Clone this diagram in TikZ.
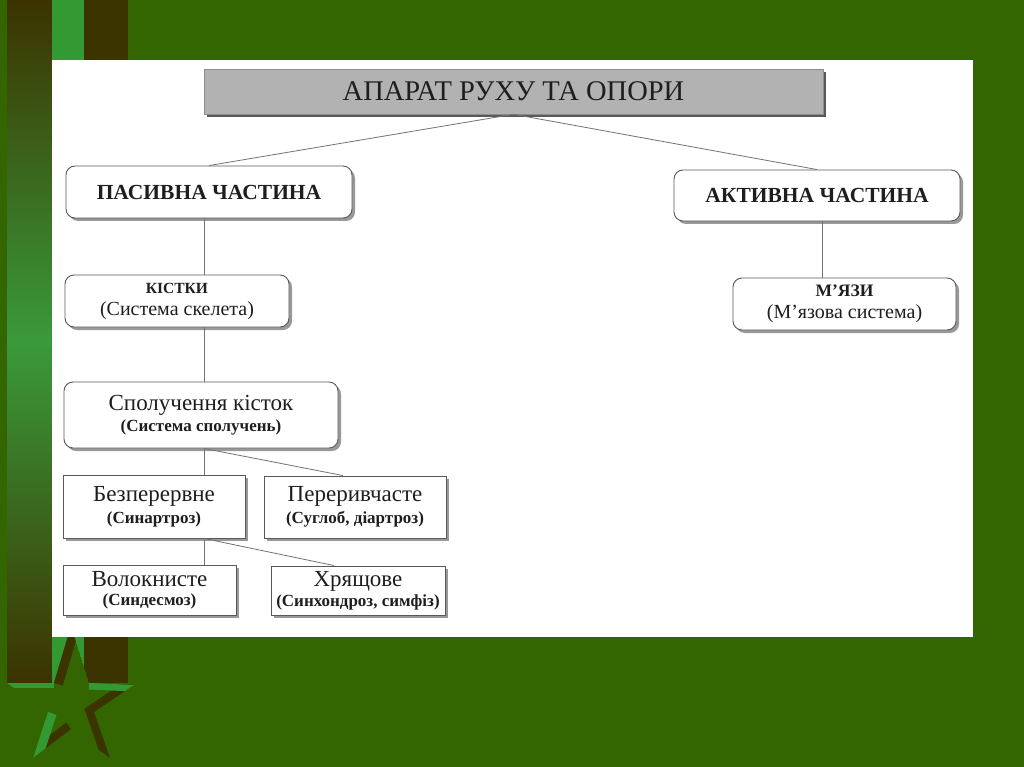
\documentclass[tikz,border=0pt]{standalone}
\usepackage{fontspec}
\setmainfont{Liberation Serif}
\usetikzlibrary{shadows}
\definecolor{bggreen}{HTML}{336600}
\definecolor{lgreen}{HTML}{339933}
\definecolor{dbrown}{HTML}{3B3300}
\definecolor{midgreen}{HTML}{3A9A3A}
\definecolor{ink}{HTML}{1E1E1E}
\newcommand\capsf{\fontsize{21.5}{24}\selectfont\bfseries}
\newcommand\smcf{\fontsize{15.5}{18}\selectfont\bfseries}
\newcommand\smcbf{\fontsize{17.5}{18}\selectfont\bfseries}
\newcommand\mainf{\fontsize{23}{26}\selectfont}
\newcommand\subf{\fontsize{17}{20}\selectfont\bfseries}
\newcommand\subrf{\fontsize{20}{22}\selectfont}
\tikzset{
  shad/.style={drop shadow={shadow xshift=3pt, shadow yshift=-3pt, fill=black!40, opacity=1}},
  rbox/.style={shad, draw=black!65, line width=0.9pt, fill=white, rounded corners=9pt,
    align=center, inner sep=0pt, text=ink},
  sbox/.style={shad, draw=black!65, line width=0.9pt, fill=white,
    align=center, inner sep=0pt, text=ink},
  tbox/.style={drop shadow={shadow xshift=3pt, shadow yshift=-3pt, fill=black!65, opacity=1},
    draw=black!45, line width=0.6pt, fill=black!30, inner sep=0pt, text=ink},
  conn/.style={draw=black!55, line width=0.8pt},
  lsk/.style={font=\fontsize{10}{#1}\selectfont},
}
\begin{document}
\begin{tikzpicture}[x=1pt,y=-1pt]
\useasboundingbox (0,0) rectangle (1024,767);
% background
\fill[bggreen] (0,0) rectangle (1024,767);
\shade[top color=dbrown, bottom color=dbrown, middle color=midgreen] (7,0) rectangle (52,683);
\fill[lgreen] (52,0) rectangle (84,683);
\fill[dbrown] (84,0) rectangle (128,683);
% star
\coordinate (T) at (71,626);
\coordinate (I1) at (89,683);
\coordinate (R) at (134,685);
\coordinate (I2) at (94,712);
\coordinate (LR) at (110,758);
\coordinate (I3) at (71,729);
\coordinate (LL) at (33,758);
\coordinate (I4) at (48,712);
\coordinate (L) at (7,683);
\coordinate (I5) at (54,683);
\begin{scope}
  \clip (T) -- (I1) -- (R) -- (I2) -- (LR) -- (I3) -- (LL) -- (I4) -- (L) -- (I5) -- cycle;
  \fill[bggreen] (T) -- (I1) -- (R) -- (I2) -- (LR) -- (I3) -- (LL) -- (I4) -- (L) -- (I5) -- cycle;
  \draw[dbrown, line width=18pt] (T) -- (I5);
  \draw[dbrown, line width=16pt, line join=miter] (R) -- (I2) -- (LR);
  \draw[dbrown, line width=16pt] (I3) -- (LL);
  \draw[lgreen, line width=9pt] (I5) -- (L);
  \draw[lgreen, line width=13pt] (I1) -- (R);
  \draw[lgreen, line width=18pt] (LL) -- (I4);
\end{scope}
% white panel
\fill[white] (52,60) rectangle (973,637);
% nodes
\node[tbox, minimum width=619pt, minimum height=45pt] (title) at (513.5,91.5)
  {\fontsize{28.5}{32}\selectfont АПАРАТ РУХУ ТА ОПОРИ};
\node[rbox, minimum width=286pt, minimum height=52pt] (pas) at (209,192) {\capsf ПАСИВНА ЧАСТИНА};
\node[rbox, minimum width=286pt, minimum height=51pt] (akt) at (817,195.5) {\capsf АКТИВНА ЧАСТИНА};
\node[rbox, lsk=22, minimum width=224pt, minimum height=52pt] (kist) at (177,301)
  {{\smcf КІСТКИ}\\{\subrf (Система скелета)}};
\node[rbox, lsk=22, minimum width=223pt, minimum height=52pt] (myaz) at (844.5,304)
  {{\smcbf М’ЯЗИ}\\{\subrf (М’язова система)}};
\node[rbox, lsk=21, minimum width=274pt, minimum height=66pt] (spol) at (201,415)
  {{\mainf Сполучення кісток}\\{\subf (Система сполучень)}};
\node[sbox, lsk=22, minimum width=182pt, minimum height=63pt] (bez) at (154,506.5)
  {{\mainf Безперервне}\\{\subf (Синартроз)}};
\node[sbox, lsk=22, minimum width=182pt, minimum height=62pt] (per) at (355,507)
  {{\mainf Переривчасте}\\{\subf (Суглоб, діартроз)}};
\node[sbox, lsk=19, minimum width=173pt, minimum height=50pt] (vol) at (149.5,590)
  {{\mainf Волокнисте}\\{\subf (Синдесмоз)}};
\node[sbox, lsk=20, minimum width=174pt, minimum height=49pt] (hry) at (358,590.5)
  {{\mainf Хрящове}\\{\subf (Синхондроз, симфіз)}};
% connectors
\coordinate (vx) at (204,0);
\coordinate (vx2) at (822,0);
\draw[conn] (title.south) -- (pas.north);
\draw[conn] (title.south) -- (akt.north);
\draw[conn] (pas.south -| vx) -- (kist.north -| vx);
\draw[conn] (kist.south -| vx) -- (spol.north -| vx);
\draw[conn] (akt.south -| vx2) -- (myaz.north -| vx2);
\draw[conn] (spol.south -| vx) -- (bez.north -| vx);
\draw[conn] (spol.south -| vx) -- ([xshift=-12pt]per.north);
\draw[conn] (bez.south -| vx) -- (vol.north -| vx);
\draw[conn] (bez.south -| vx) -- ([xshift=-24pt]hry.north);
\end{tikzpicture}
\end{document}
